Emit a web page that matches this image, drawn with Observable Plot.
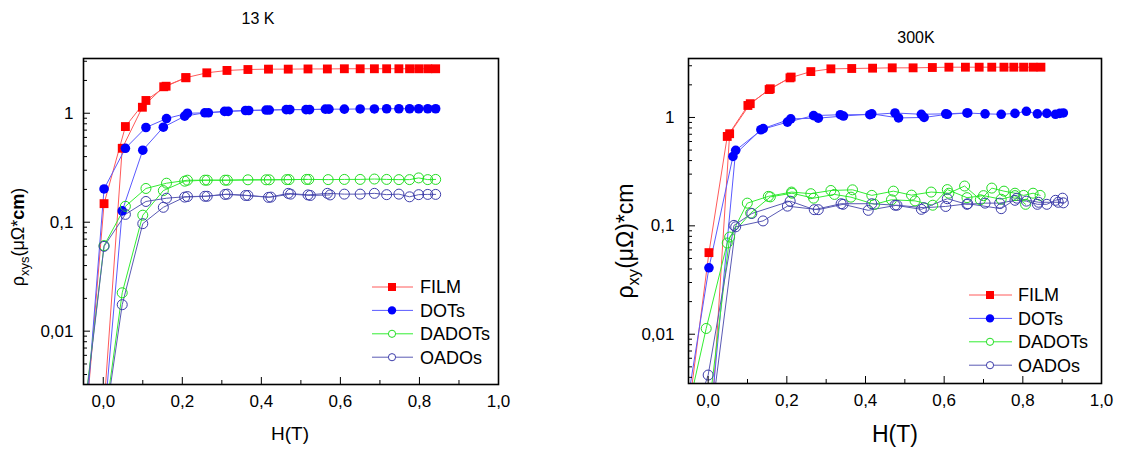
<!DOCTYPE html>
<html>
<head>
<meta charset="utf-8">
<script src="https://cdn.jsdelivr.net/npm/d3@7"></script>
<script src="https://cdn.jsdelivr.net/npm/@observablehq/plot@0.6"></script>
<style>
  html, body { margin: 0; padding: 0; background: #fff; }
  #wrap { position: relative; width: 1122px; height: 449px; overflow: hidden; background: #fff; }
  #wrap svg { position: absolute; top: 0; }
</style>
</head>
<body>
<div id="wrap"></div>
<script>
// ---------------- DATA ----------------
const seriesNames = ["FILM", "DOTs", "DADOTs", "OADOs"];
const xTickValues = [0, 0.2, 0.4, 0.6, 0.8, 1.0];
const xMinorValues = [0.1, 0.3, 0.5, 0.7, 0.9];
const yTickValues = [0.01, 0.1, 1];

// 13 K panel — two sweep branches per series (A and B)
const H13_filmA = [-0.05, 0.002, 0.056, 0.108, 0.159, 0.209, 0.262, 0.313, 0.366, 0.418, 0.468, 0.518, 0.567, 0.610, 0.650, 0.686, 0.717, 0.748, 0.775, 0.798, 0.821, 0.841];
const v13_filmA = [0.0008, 0.148, 0.755, 1.31, 1.77, 2.12, 2.35, 2.47, 2.52, 2.54, 2.54, 2.55, 2.55, 2.56, 2.56, 2.56, 2.56, 2.56, 2.56, 2.56, 2.56, 2.56];
const H13_filmB = [0.0, 0.048, 0.099, 0.153, 0.209];
const v13_filmB = [0.0016, 0.477, 1.135, 1.75, 2.12];

const H13_dotsA = [-0.05, 0.002, 0.056, 0.108, 0.160, 0.213, 0.266, 0.316, 0.368, 0.420, 0.472, 0.522, 0.571, 0.610, 0.650, 0.686, 0.717, 0.748, 0.775, 0.798, 0.821, 0.841];
const v13_dotsA = [0.0008, 0.202, 0.477, 0.74, 0.894, 1.0, 1.01, 1.04, 1.06, 1.07, 1.08, 1.08, 1.09, 1.09, 1.095, 1.095, 1.10, 1.10, 1.10, 1.10, 1.10, 1.10];
const H13_dotsB = [0.0, 0.048, 0.100, 0.152, 0.206, 0.257, 0.307, 0.360, 0.412, 0.463, 0.513, 0.562];
const v13_dotsB = [0.0012, 0.127, 0.458, 0.745, 0.94, 1.01, 1.04, 1.06, 1.07, 1.08, 1.08, 1.09];

const H13_dadA = [-0.05, 0.002, 0.056, 0.108, 0.160, 0.213, 0.263, 0.314, 0.366, 0.420, 0.470, 0.520, 0.569, 0.610, 0.650, 0.686, 0.717, 0.748, 0.775, 0.798, 0.821, 0.841];
const v13_dadA = [0.0016, 0.061, 0.140, 0.204, 0.228, 0.243, 0.243, 0.243, 0.245, 0.245, 0.246, 0.247, 0.246, 0.247, 0.247, 0.249, 0.247, 0.246, 0.246, 0.255, 0.246, 0.247];
const H13_dadB = [0.0, 0.048, 0.100, 0.152, 0.206, 0.257, 0.308, 0.412, 0.464, 0.514];
const v13_dadB = [0.0012, 0.0225, 0.116, 0.195, 0.238, 0.243, 0.243, 0.245, 0.246, 0.247];

const H13_oadA = [-0.05, 0.002, 0.056, 0.108, 0.160, 0.213, 0.263, 0.314, 0.366, 0.418, 0.468, 0.518, 0.567, 0.610, 0.650, 0.686, 0.717, 0.748, 0.775, 0.798, 0.821, 0.841];
const v13_oadA = [0.0015, 0.060, 0.118, 0.155, 0.166, 0.172, 0.173, 0.181, 0.176, 0.169, 0.184, 0.178, 0.184, 0.181, 0.181, 0.184, 0.179, 0.181, 0.171, 0.179, 0.180, 0.180];
const H13_oadB = [0.0, 0.048, 0.100, 0.152, 0.206, 0.257, 0.308, 0.360, 0.424, 0.474, 0.524, 0.574];
const v13_oadB = [0.0011, 0.0175, 0.097, 0.137, 0.170, 0.173, 0.180, 0.176, 0.170, 0.181, 0.176, 0.178];

// 300 K panel
const H300_filmA = [-0.05, 0.002, 0.0485, 0.101, 0.155, 0.208, 0.261, 0.312, 0.365, 0.418, 0.468, 0.521, 0.570, 0.612, 0.654, 0.689, 0.721, 0.752, 0.777, 0.802, 0.826, 0.846];
const v300_filmA = [0.0019, 0.0566, 0.668, 1.29, 1.81, 2.32, 2.65, 2.81, 2.83, 2.85, 2.87, 2.87, 2.89, 2.91, 2.91, 2.91, 2.91, 2.91, 2.91, 2.91, 2.91, 2.91];
const H300_filmB = [0.0, 0.0546, 0.107, 0.158, 0.211];
const v300_filmB = [0.0005, 0.708, 1.34, 1.84, 2.36];

const H300_dotsA = [-0.05, 0.002, 0.063, 0.134, 0.2015, 0.268, 0.336, 0.411, 0.475, 0.542, 0.604, 0.658, 0.704, 0.745, 0.780, 0.809, 0.837, 0.861, 0.883, 0.894, 0.903];
const v300_dotsA = [0.0027, 0.041, 0.437, 0.77, 0.906, 1.04, 1.06, 1.06, 1.10, 1.07, 1.08, 1.10, 1.08, 1.07, 1.09, 1.14, 1.08, 1.09, 1.07, 1.09, 1.10];
const H300_dotsB = [0.0, 0.070, 0.140, 0.210, 0.280, 0.344, 0.416, 0.484, 0.549, 0.608, 0.660];
const v300_dotsB = [0.00096, 0.497, 0.79, 0.97, 0.986, 1.03, 1.08, 0.99, 1.0, 1.07, 1.10];

const H300_dadA = [-0.05, -0.005, 0.0485, 0.0995, 0.153, 0.212, 0.261, 0.312, 0.367, 0.416, 0.471, 0.517, 0.567, 0.612, 0.652, 0.692, 0.721, 0.752, 0.780, 0.802, 0.826, 0.844];
const v300_dadA = [0.0021, 0.0113, 0.0695, 0.162, 0.187, 0.205, 0.198, 0.212, 0.215, 0.191, 0.209, 0.192, 0.205, 0.20, 0.233, 0.174, 0.223, 0.209, 0.20, 0.191, 0.20, 0.191];
const H300_dadB = [0.0, 0.0546, 0.108, 0.158, 0.213, 0.268, 0.321, 0.363, 0.423, 0.466, 0.526, 0.571, 0.608, 0.658, 0.700, 0.745, 0.780, 0.807];
const v300_dadB = [0.0018, 0.0788, 0.131, 0.185, 0.20, 0.180, 0.195, 0.184, 0.158, 0.174, 0.170, 0.155, 0.216, 0.182, 0.19, 0.176, 0.19, 0.158];

const H300_oadA = [-0.05, 0.0, 0.0656, 0.111, 0.2085, 0.2697, 0.338, 0.416, 0.475, 0.542, 0.608, 0.658, 0.704, 0.741, 0.780, 0.809, 0.837, 0.861, 0.883, 0.901];
const v300_oadA = [0.0012, 0.0042, 0.101, 0.13, 0.169, 0.141, 0.160, 0.160, 0.155, 0.142, 0.178, 0.158, 0.162, 0.162, 0.172, 0.169, 0.158, 0.158, 0.172, 0.18];
const H300_oadB = [0.0, 0.070, 0.1395, 0.2015, 0.280, 0.343, 0.407, 0.480, 0.549, 0.604, 0.660, 0.745, 0.785, 0.840, 0.890, 0.903];
const v300_oadB = [0.001, 0.098, 0.111, 0.152, 0.141, 0.158, 0.139, 0.155, 0.147, 0.151, 0.160, 0.144, 0.180, 0.165, 0.165, 0.163];

// ---------------- STYLE ----------------
const FONT = "'Liberation Sans', Arial, Helvetica, sans-serif";
const styles = {
  FILM:   {symbol: "square", fill: "#ff0000", stroke: "none",    line: "#ff5a5a", r: 5.0, lr: 4.0},
  DOTs:   {symbol: "circle", fill: "#0000ff", stroke: "none",    line: "#5a5aff", r: 4.8, lr: 4.2},
  DADOTs: {symbol: "circle", fill: "none",    stroke: "#22dd22", line: "#33ee33", r: 5.0, lr: 3.6},
  OADOs:  {symbol: "circle", fill: "none",    stroke: "#3c3caa", line: "#5a5ab4", r: 5.0, lr: 3.6}
};

function zipRows(name, branch, Hs, vs) {
  return Hs.map((h, i) => ({series: name, key: name + branch, H: h, v: vs[i]}));
}

function buildPanel(cfg) {
  const W = 561, Ht = 449;
  const fw = W - cfg.ml - cfg.mr, fh = Ht - cfg.mt - cfg.mb;
  const [y0, y1] = cfg.ydomain;
  const yMinor = [];
  for (let e = -4; e <= 1; e++) for (let m = 2; m <= 9; m++) {
    const v = m * Math.pow(10, e);
    if (v > y0 && v < y1) yMinor.push(v);
  }
  const marks = [];
  for (const name of seriesNames) {
    const s = styles[name];
    marks.push(Plot.line(cfg.data[name], {x: "H", y: "v", z: "key", stroke: s.line, strokeWidth: 1, clip: true}));
  }
  for (const name of seriesNames) {
    const s = styles[name];
    marks.push(Plot.dot(cfg.data[name], {x: "H", y: "v", symbol: s.symbol, r: s.r, fill: s.fill, stroke: s.stroke, strokeWidth: 1, clip: true}));
  }
  marks.push(
    Plot.ruleX(xTickValues, {insetTop: fh - 7, stroke: "#000", strokeWidth: 1}),
    Plot.ruleX(xMinorValues, {insetTop: fh - 4, stroke: "#000", strokeWidth: 1}),
    Plot.ruleY(yTickValues, {insetRight: fw - 7, stroke: "#000", strokeWidth: 1}),
    Plot.ruleY(yMinor, {insetRight: fw - 4, stroke: "#000", strokeWidth: 1}),
    Plot.axisX(xTickValues, {tickSize: 0, tickPadding: cfg.xPad, fontSize: cfg.tickFont, label: null,
      tickFormat: d => d.toFixed(1).replace(".", ",")}),
    Plot.axisY(yTickValues, {tickSize: 0, tickPadding: cfg.yPad, fontSize: cfg.tickFont, label: null,
      tickFormat: d => String(d).replace(".", ",")}),
    Plot.frame({stroke: "#000", strokeWidth: 1.6})
  );
  const svg = Plot.plot({
    width: W, height: Ht,
    marginTop: cfg.mt, marginBottom: cfg.mb, marginLeft: cfg.ml, marginRight: cfg.mr,
    style: {fontFamily: FONT, color: "#000", background: "transparent", overflow: "visible"},
    x: {domain: [-0.05, 1.0]},
    y: {type: "log", domain: cfg.ydomain},
    marks
  });
  svg.style.left = cfg.left + "px";

  const g = d3.select(svg).append("g").attr("font-family", FONT).attr("fill", "#000");
  g.append("text").attr("x", cfg.title.x).attr("y", cfg.title.y).attr("text-anchor", "middle")
    .attr("font-size", cfg.title.size).text(cfg.title.text);
  g.append("text").attr("x", cfg.xlab.x).attr("y", cfg.xlab.y).attr("text-anchor", "middle")
    .attr("font-size", cfg.xlab.size).text("H(T)");
  const yl = g.append("text").attr("transform", `translate(${cfg.ylab.x},${cfg.ylab.y}) rotate(-90)`)
    .attr("text-anchor", "middle").attr("font-size", cfg.ylab.size);
  for (const part of cfg.ylab.parts) {
    const t = yl.append("tspan").text(part.t);
    if (part.sub) t.attr("font-size", cfg.ylab.size * 0.72).attr("dy", "0.35em");
    if (part.up) t.attr("dy", "-0.25em");
    if (part.bold) t.attr("font-weight", "bold");
  }
  const L = cfg.legend;
  seriesNames.forEach((name, i) => {
    const s = styles[name];
    const y = L.y0 + i * L.dy;
    g.append("line").attr("x1", L.x1).attr("x2", L.x2).attr("y1", y).attr("y2", y)
      .attr("stroke", s.line).attr("stroke-width", 1);
    if (s.symbol === "square") {
      g.append("rect").attr("x", L.xm - s.lr).attr("y", y - s.lr).attr("width", 2 * s.lr).attr("height", 2 * s.lr)
        .attr("fill", s.fill);
    } else {
      g.append("circle").attr("cx", L.xm).attr("cy", y).attr("r", s.lr)
        .attr("fill", s.fill === "none" ? "#fff" : s.fill).attr("stroke", s.stroke).attr("stroke-width", 1);
    }
    g.append("text").attr("x", L.xt).attr("y", y).attr("dy", "0.36em").attr("text-anchor", "start")
      .attr("font-size", L.size).text(name);
  });
  return svg;
}

function seriesData(prefix) {
  const tbl = {
    "13": {
      FILM: [...zipRows("FILM", "A", H13_filmA, v13_filmA), ...zipRows("FILM", "B", H13_filmB, v13_filmB)],
      DOTs: [...zipRows("DOTs", "A", H13_dotsA, v13_dotsA), ...zipRows("DOTs", "B", H13_dotsB, v13_dotsB)],
      DADOTs: [...zipRows("DADOTs", "A", H13_dadA, v13_dadA), ...zipRows("DADOTs", "B", H13_dadB, v13_dadB)],
      OADOs: [...zipRows("OADOs", "A", H13_oadA, v13_oadA), ...zipRows("OADOs", "B", H13_oadB, v13_oadB)]
    },
    "300": {
      FILM: [...zipRows("FILM", "A", H300_filmA, v300_filmA), ...zipRows("FILM", "B", H300_filmB, v300_filmB)],
      DOTs: [...zipRows("DOTs", "A", H300_dotsA, v300_dotsA), ...zipRows("DOTs", "B", H300_dotsB, v300_dotsB)],
      DADOTs: [...zipRows("DADOTs", "A", H300_dadA, v300_dadA), ...zipRows("DADOTs", "B", H300_dadB, v300_dadB)],
      OADOs: [...zipRows("OADOs", "A", H300_oadA, v300_oadA), ...zipRows("OADOs", "B", H300_oadB, v300_oadB)]
    }
  };
  return tbl[prefix];
}

const wrap = document.getElementById("wrap");
wrap.appendChild(buildPanel({
  left: 0, ml: 83, mr: 63, mt: 58, mb: 65,
  ydomain: [0.00324, 3.18],
  tickFont: 17, xPad: 10, yPad: 10,
  data: seriesData("13"),
  title: {text: "13 K", x: 258, y: 24, size: 16},
  xlab: {x: 290, y: 440, size: 19},
  ylab: {x: 24, y: 237, size: 18, parts: [{t: "ρ"}, {t: "xys", sub: true}, {t: "(μΩ*", up: true}, {t: "cm", bold: true}, {t: ")"}]},
  legend: {x1: 372, x2: 413, xm: 392, xt: 420, y0: 287, dy: 23.4, size: 18}
}));
wrap.appendChild(buildPanel({
  left: 561, ml: 127, mr: 21, mt: 58, mb: 66,
  ydomain: [0.00351, 3.5],
  tickFont: 17, xPad: 10, yPad: 14,
  data: seriesData("300"),
  title: {text: "300K", x: 355, y: 43, size: 16},
  xlab: {x: 334, y: 442, size: 23},
  ylab: {x: 72, y: 241, size: 23, parts: [{t: "ρ"}, {t: "xy", sub: true}, {t: "(μΩ)*cm", up: true}]},
  legend: {x1: 408, x2: 451, xm: 429, xt: 457, y0: 295, dy: 23.4, size: 18}
}));
</script>
</body>
</html>
